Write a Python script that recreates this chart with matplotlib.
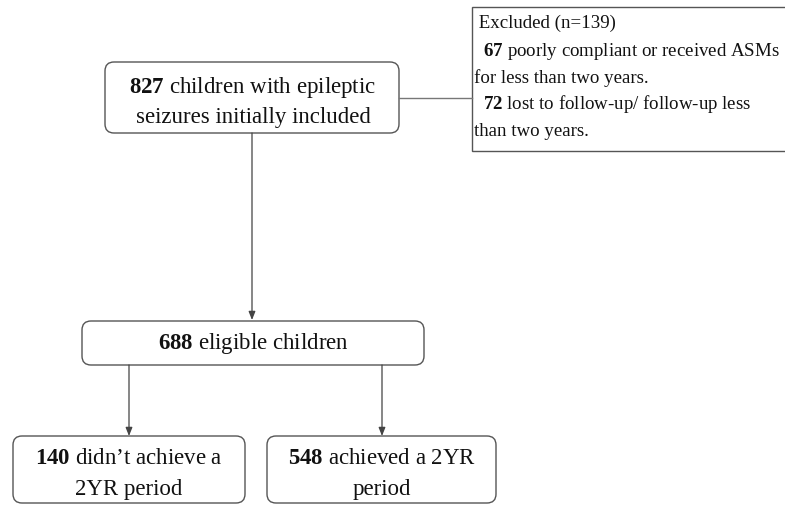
import matplotlib
matplotlib.use("Agg")
import matplotlib.pyplot as plt
from matplotlib.patches import FancyBboxPatch, Rectangle

plt.rcParams['font.family'] = ['Liberation Serif', 'DejaVu Serif']
plt.rcParams['mathtext.fontset'] = 'custom'
plt.rcParams['mathtext.rm'] = 'Liberation Serif'
plt.rcParams['mathtext.bf'] = 'Liberation Serif:bold'
plt.rcParams['mathtext.it'] = 'Liberation Serif:italic'

# ---- data ----
counts = [827, 139, 67, 72, 688, 140, 548]
box_texts = {
    "initial": [r"$\mathbf{827}$ children with epileptic", "seizures initially included"],
    "eligible": [r"$\mathbf{688}$ eligible children"],
    "not_achieved": [r"$\mathbf{140}$ didn’t achieve a", "2YR period"],
    "achieved": [r"$\mathbf{548}$ achieved a 2YR", "period"],
}
excluded_lines = [
    " Excluded (n=139)",
    r"  $\mathbf{67}$ poorly compliant or received ASMs",
    "for less than two years.",
    r"  $\mathbf{72}$ lost to follow-up/ follow-up less",
    "than two years.",
]

W, H = 785, 505
fig = plt.figure(figsize=(W / 100, H / 100), dpi=100)
ax = fig.add_axes([0, 0, 1, 1])
ax.set_xlim(0, W)
ax.set_ylim(H, 0)
ax.axis("off")

edge = "#555555"
fs_main = 16.5
fs_excl = 13.6


def rbox(x0, y0, x1, y1):
    p = FancyBboxPatch((x0, y0), x1 - x0, y1 - y0,
                       boxstyle="round,pad=0,rounding_size=9",
                       fc="white", ec=edge, lw=1.0)
    ax.add_patch(p)


def lines_in(cx, ys, lines):
    for y, t in zip(ys, lines):
        ax.text(cx, y, t, ha="center", va="center", fontsize=fs_main, color="#111111")


def arrow(x, y0, y1):
    ax.annotate("", xy=(x, y1), xytext=(x, y0),
                arrowprops=dict(arrowstyle="-|>,head_length=0.5,head_width=0.2",
                                color="#444444", lw=0.9, shrinkA=0, shrinkB=0))

# connectors
ax.plot([399, 472], [98, 98], color="#777777", lw=1.0)
arrow(252, 133, 320)
arrow(129, 365, 436)
arrow(382, 365, 436)

# boxes
rbox(105, 62, 399, 133)
lines_in(253, [88, 118], box_texts["initial"])

rbox(82, 321, 424, 365)
lines_in(253, [343], box_texts["eligible"])

rbox(13, 436, 245, 503)
lines_in(129, [459, 489], box_texts["not_achieved"])

rbox(267, 436, 496, 503)
lines_in(382, [459, 489], box_texts["achieved"])

# excluded box (extends beyond right edge)
ax.add_patch(Rectangle((472, 7), 330, 144, fc="white", ec=edge, lw=1.0, clip_on=True))
for y, t in zip([23, 51, 78, 104, 131], excluded_lines):
    ax.text(474, y, t, ha="left", va="center", fontsize=fs_excl, color="#111111")

fig.savefig("out.png", dpi=100, facecolor="white")
